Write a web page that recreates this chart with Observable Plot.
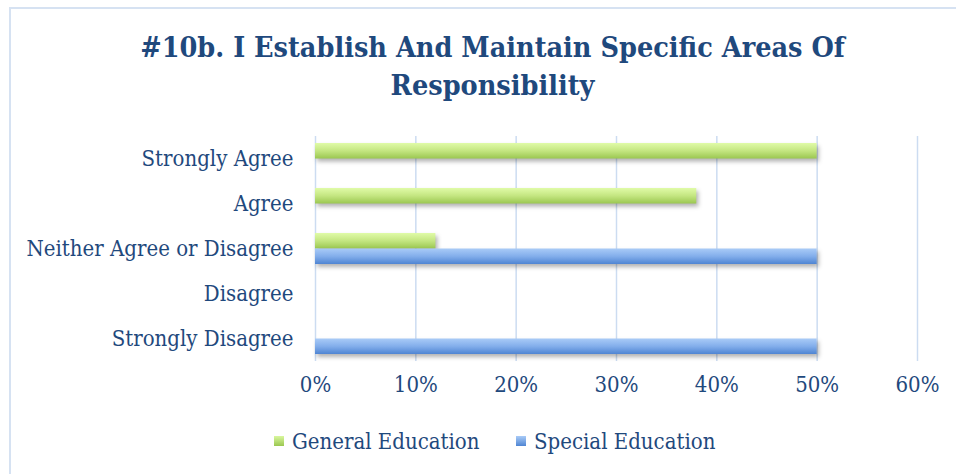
<!DOCTYPE html>
<html><head><meta charset="utf-8">
<script src="https://cdn.jsdelivr.net/npm/d3@7"></script>
<script src="https://cdn.jsdelivr.net/npm/@observablehq/plot@0.6"></script>
<style>
html,body{margin:0;padding:0;background:#fff;width:956px;height:474px;overflow:hidden;}
#frame{position:absolute;left:9px;top:7px;width:960px;height:480px;border:2px solid #D6E2F2;box-sizing:border-box;}
#title{position:absolute;left:0;top:28px;width:985px;text-align:center;font-family:"DejaVu Serif Condensed","DejaVu Serif",serif;font-weight:bold;font-size:28.5px;line-height:38px;color:#1F497D;}
#chart{position:absolute;left:0;top:120px;}
#legend{position:absolute;top:427px;left:0;width:956px;font-family:"DejaVu Serif Condensed","DejaVu Serif",serif;font-size:22px;color:#1F497D;}
.item{position:absolute;top:0;display:flex;align-items:center;height:28px;}
.sw{width:10px;height:10px;margin-right:8px;}
.bars rect{filter:drop-shadow(2px 3px 2px rgba(0,0,0,0.3));}
</style></head>
<body>
<div id="frame"></div>
<div id="title">#10b. I Establish And Maintain Specific Areas Of<br>Responsibility</div>
<div id="chart"></div>
<div id="legend"></div>
<script>
const categories = ["Strongly Agree","Agree","Neither Agree or Disagree","Disagree","Strongly Disagree"];
const seriesNames = ["General Education","Special Education"];
const generalEducation = [0.50, 0.38, 0.12, 0, 0];
const specialEducation = [0, 0, 0.50, 0, 0.50];
const xTicks = [0, 0.1, 0.2, 0.3, 0.4, 0.5, 0.6];

const genData = categories.map((c,i)=>({category:c, value:generalEducation[i]})).filter(d=>d.value>0);
const speData = categories.map((c,i)=>({category:c, value:specialEducation[i]})).filter(d=>d.value>0);

const font = '"DejaVu Serif Condensed","DejaVu Serif",serif';
const textColor = "#1F497D";
const bandwidthHalf = 15.5;

const plot = Plot.plot({
  width: 956,
  height: 286,
  marginLeft: 315,
  marginRight: 39,
  marginTop: 16,
  marginBottom: 45,
  style: {fontFamily: font, fontSize: "22px", color: textColor, background: "transparent", overflow: "visible"},
  x: {domain: [0, 0.6], ticks: xTicks, tickFormat: d3.format(".0%"), tickSize: 0, tickPadding: 15, label: null},
  y: {domain: categories, paddingInner: 14/45, paddingOuter: 7/45, tickSize: 0, tickPadding: 22, label: null},
  marks: [
    Plot.gridX(xTicks, {stroke: "#CCDCF1", strokeOpacity: 1, strokeWidth: 1.5}),
    Plot.barX(genData, {x: "value", y: "category", fill: "url(#gGreen)", insetBottom: bandwidthHalf, className: "bars"}),
    Plot.barX(speData, {x: "value", y: "category", fill: "url(#gBlue)", insetTop: bandwidthHalf, className: "bars"}),
    Plot.axisX({ticks: xTicks, tickFormat: d3.format(".0%"), tickSize: 0, tickPadding: 15, fill: textColor}),
    Plot.axisY({tickSize: 0, tickPadding: 22, fill: textColor})
  ]
});
const ns = "http://www.w3.org/2000/svg";
const defs = document.createElementNS(ns, "defs");
defs.innerHTML = `
<linearGradient id="gGreen" x1="0" y1="0" x2="0" y2="1">
  <stop offset="0" stop-color="#E0FBA8"/><stop offset="0.5" stop-color="#C4E681"/><stop offset="1" stop-color="#9BC751"/>
</linearGradient>
<linearGradient id="gBlue" x1="0" y1="0" x2="0" y2="1">
  <stop offset="0" stop-color="#A9CBF7"/><stop offset="0.5" stop-color="#83AEEB"/><stop offset="1" stop-color="#4F85D3"/>
</linearGradient>`;
plot.insertBefore(defs, plot.firstChild);
document.getElementById("chart").appendChild(plot);

const legend = document.getElementById("legend");
const legendItems = [
  {name: seriesNames[0], left: 274, grad: "linear-gradient(#D9F79E,#9BC751)"},
  {name: seriesNames[1], left: 516, grad: "linear-gradient(#A9CBF7,#4F85D3)"}
];
legendItems.forEach(it=>{
  const d = document.createElement("div");
  d.className = "item"; d.style.left = it.left + "px";
  d.innerHTML = `<div class="sw" style="background:${it.grad}"></div><span>${it.name}</span>`;
  legend.appendChild(d);
});
</script>
</body></html>
